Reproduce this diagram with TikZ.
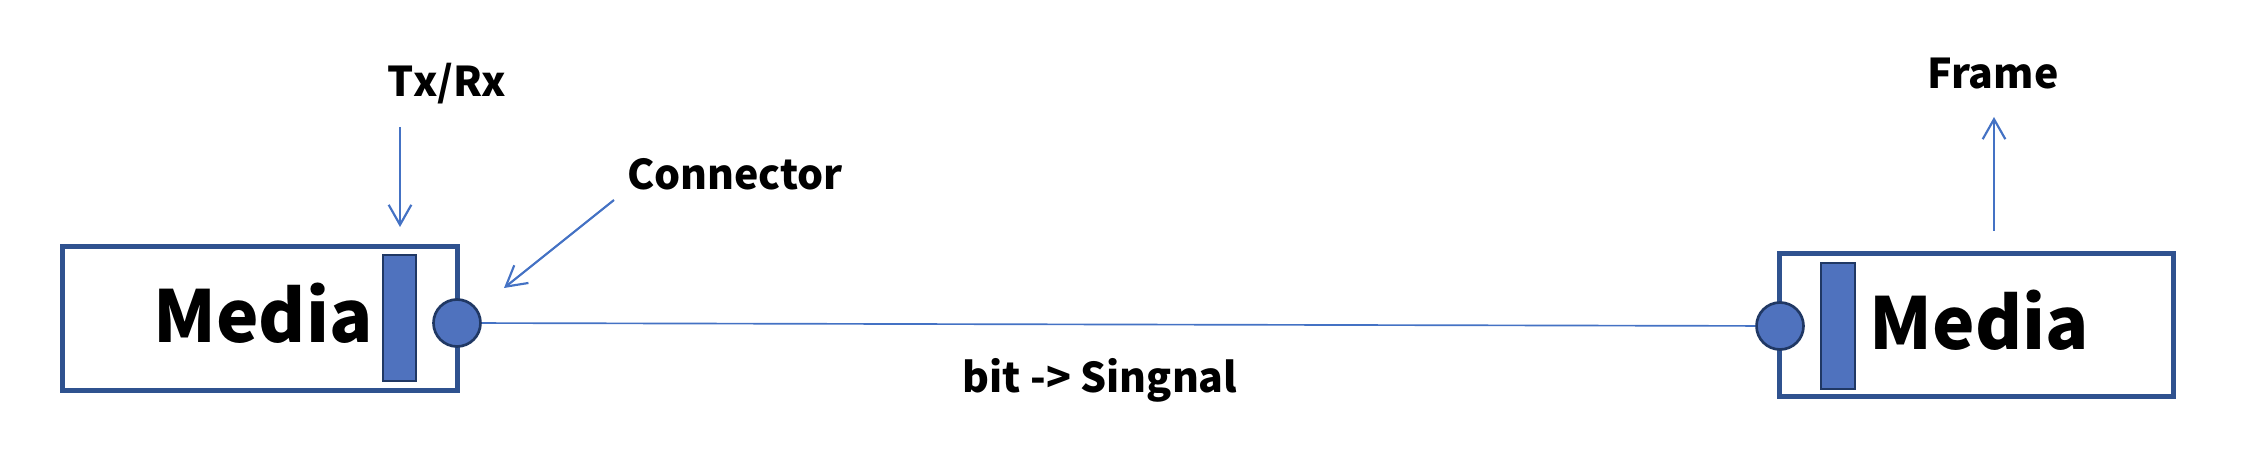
\documentclass[tikz,border=0pt]{standalone}
\usepackage{fontspec}
\setmainfont{Noto Sans CJK SC}
\usetikzlibrary{arrows.meta}

\definecolor{boxblue}{RGB}{47,82,143}
\definecolor{fillblue}{RGB}{79,114,190}
\definecolor{lineblue}{RGB}{68,114,196}
\definecolor{ringblue}{RGB}{32,56,100}

\begin{document}
\begin{tikzpicture}[x=0.3pt,y=0.3pt,yscale=-1,
    mediabox/.style={draw=boxblue,line width=1.5pt,fill=white,inner sep=0pt,
      minimum width=118.4pt,minimum height=43pt},
    portbar/.style={draw=ringblue,line width=0.6pt,fill=fillblue,inner sep=0pt,
      minimum width=10pt,minimum height=37.8pt},
    plug/.style={circle,draw=ringblue,line width=0.8pt,fill=fillblue,inner sep=0pt,
      minimum size=14.1pt},
    bigtext/.style={anchor=base,inner sep=0pt,font=\fontsize{21.5}{26}\selectfont\bfseries},
    labeltext/.style={anchor=base,inner sep=0pt,font=\fontsize{12.3}{15}\selectfont\bfseries},
    pointer/.style={draw=lineblue,line width=0.65pt,-{Straight Barb[length=6pt,width=6.8pt]}}]
\useasboundingbox (0,0) rectangle (2244,454);

%Left media
\node [mediabox] (leftbox) at (260,318.5) {};
\node [portbar] (leftbar) at (399.5,318) {};
\node [plug] (leftplug) at (457,323) {};
\node [bigtext] (leftmedia) at (263,343) {Media};

%Right media
\node [mediabox] (rightbox) at (1976.5,325) {};
\node [portbar] (rightbar) at (1838,326) {};
\node [plug] (rightplug) at (1780,326) {};
\node [bigtext] (rightmedia) at (1979.5,350) {Media};

%Labels
\node [labeltext] (txrx) at (447,97) {Tx/Rx};
\node [labeltext] (conn) at (735,190) {Connector};
\node [labeltext] (frame) at (1993,89) {Frame};
\node [labeltext] (signal) at (1100,393) {bit -> Singnal};

%Cable
\draw [draw=lineblue,line width=0.5pt] (leftplug) -- (rightplug);

%Arrows
\coordinate (txtop) at (400,127);
\coordinate (txend) at (400,227);
\coordinate (conntop) at (614,200);
\coordinate (connend) at (504,288);
\coordinate (framelow) at (1994,231);
\coordinate (frameend) at (1994,117);
\draw [pointer] (txtop) -- (txend);
\draw [pointer] (conntop) -- (connend);
\draw [pointer] (framelow) -- (frameend);

\end{tikzpicture}
\end{document}
